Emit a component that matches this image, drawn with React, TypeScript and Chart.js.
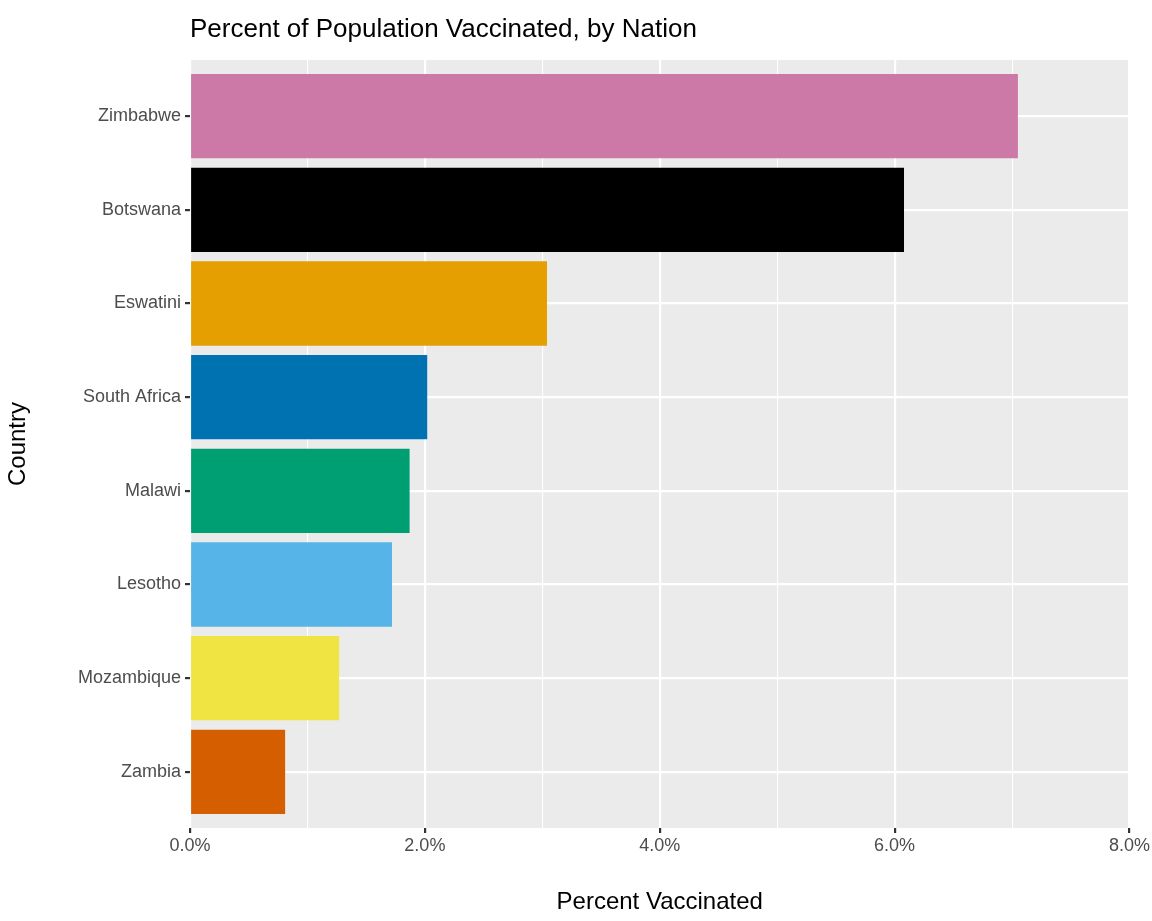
import { useEffect, useRef } from 'react';
import { Chart, registerables } from 'chart.js';

Chart.register(...registerables);

// bottom to top
const countries = ['Zambia', 'Mozambique', 'Lesotho', 'Malawi', 'South Africa', 'Eswatini', 'Botswana', 'Zimbabwe'];
const percentVaccinated = [0.81, 1.27, 1.72, 1.87, 2.02, 3.04, 6.08, 7.05];
const barColors = ['#D55E00', '#F0E442', '#56B4E9', '#009E73', '#0072B2', '#E69F00', '#000000', '#CC79A7'];
const xTicks = [0, 1, 2, 3, 4, 5, 6, 7, 8];

const panelBg = {
  id: 'panelBg',
  beforeDraw(chart: Chart) {
    const { ctx, chartArea: a } = chart;
    ctx.save();
    ctx.fillStyle = '#EBEBEB';
    ctx.fillRect(a.left, a.top, a.right - a.left, a.bottom - a.top);
    ctx.fillStyle = '#000';
    ctx.font = '26px Arial, "Liberation Sans", sans-serif';
    ctx.textBaseline = 'middle';
    ctx.fillText('Percent of Population Vaccinated, by Nation', a.left, 30);
    ctx.restore();
  },
};

export default function App() {
  const canvasRef = useRef<HTMLCanvasElement>(null);

  useEffect(() => {
    if (!canvasRef.current) return;
    const font = { family: 'Arial, "Liberation Sans", sans-serif', size: 18 };
    const chart = new Chart(canvasRef.current, {
      type: 'bar',
      data: {
        datasets: [
          {
            data: countries.map((_, i) => ({ x: percentVaccinated[i], y: i })),
            backgroundColor: barColors,
            barPercentage: 0.9,
            categoryPercentage: 1,
          },
        ],
      },
      options: {
        indexAxis: 'y',
        animation: false,
        responsive: false,
        layout: { padding: { top: 60, right: 15, left: 0, bottom: 0 } },
        plugins: { legend: { display: false }, tooltip: { enabled: false } },
        scales: {
          x: {
            type: 'linear',
            min: 0,
            max: 8,
            offset: false,
            afterBuildTicks: (s: any) => { s.ticks = xTicks.map((v) => ({ value: v })); },
            afterFit: (s: any) => { s.height = 93; },
            border: { display: false },
            grid: {
              offset: false,
              color: '#FFFFFF',
              lineWidth: (c: any) => (c.tick && c.tick.value % 2 === 0 ? 2.2 : 1.1),
              tickColor: (c: any) => (c.tick && c.tick.value % 2 === 0 ? '#333333' : 'rgba(0,0,0,0)'),
              tickLength: 5,
            },
            ticks: {
              color: '#4D4D4D',
              font,
              padding: 2,
              maxRotation: 0,
              autoSkip: false,
              callback: (v: any) => (v % 2 === 0 ? Number(v).toFixed(1) + '%' : ''),
            },
            title: { display: true, text: 'Percent Vaccinated', color: '#000', font: { ...font, size: 24 }, padding: { top: 2 } },
          },
          y: {
            type: 'linear',
            min: -0.6,
            max: 7.6,
            offset: false,
            afterBuildTicks: (s: any) => { s.ticks = countries.map((_, i) => ({ value: i })); },
            afterFit: (s: any) => { s.width = 190; },
            border: { display: false },
            grid: { offset: false, color: '#FFFFFF', lineWidth: 2.2, tickColor: '#333333', tickLength: 5 },
            ticks: {
              color: '#4D4D4D',
              font,
              padding: 4,
              autoSkip: false,
              callback: (v: any) => countries[v] ?? '',
            },
            title: { display: true, text: 'Country', color: '#000', font: { ...font, size: 24 }, padding: { bottom: 2 } },
          },
        },
      },
      plugins: [panelBg],
    });
    return () => chart.destroy();
  }, []);

  return (
    <div style={{ position: 'fixed', left: 0, top: 0, width: 1152, height: 921, background: '#fff' }}>
      <canvas ref={canvasRef} width={1152} height={921} />
    </div>
  );
}
